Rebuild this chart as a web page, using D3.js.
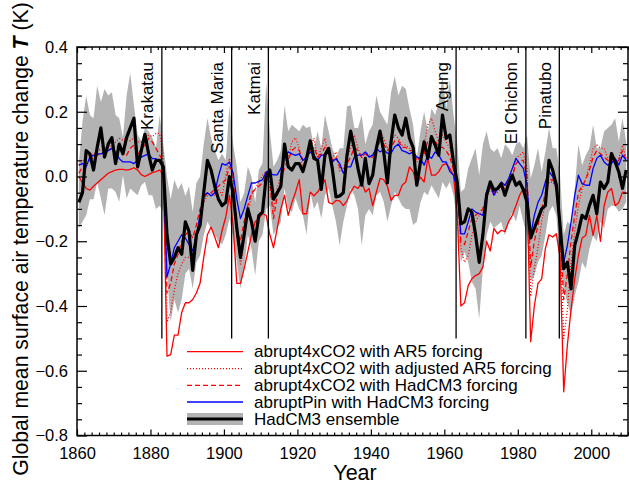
<!DOCTYPE html>
<html>
<head>
<meta charset="utf-8">
<script src="https://cdn.jsdelivr.net/npm/d3@7"></script>
<style>
  body { margin: 0; background: #fff; }
  text { font-family: "Liberation Sans", Arial, Helvetica, sans-serif; }
</style>
</head>
<body>
<div id="chart"></div>
<script>
// annual values 1860-2009, plotted at mid-year
const firstYear = 1860;

const ensMean = [
  -0.08, -0.05, 0.08, 0.07, 0.02, 0.09, 0.15, 0.06, 0.10, 0.12,
  0.04, 0.10, 0.07, 0.12, 0.15, 0.18, 0.03, 0.08, 0.13, 0.07,
  0.02, 0.05, 0.05, 0.03, -0.18, -0.27, -0.25, -0.22, -0.24, -0.14,
  -0.17, -0.29, -0.18, -0.15, -0.05, 0.05, 0.02, -0.03, -0.07, -0.09,
  -0.08, 0.00, -0.05, -0.16, -0.25, -0.18, -0.10, -0.14, -0.20, -0.12,
  -0.11, 0.00, 0.02, -0.07, -0.05, -0.03, 0.10, 0.03, 0.02, 0.04,
  0.04, 0.015, 0.056, 0.11, 0.056, 0.05, -0.04, 0.066, 0.087, 0.025,
  -0.063, -0.06, -0.05, 0.066, 0.14, 0.087, 0.025, -0.027, 0.056, -0.022,
  0.004, 0.087, 0.14, 0.076, -0.02, 0.107, 0.19, 0.15, 0.128, 0.18,
  0.118, 0.09, -0.027, 0.045, 0.107, 0.056, 0.123, 0.097, 0.066, 0.19,
  0.118, 0.128, 0.045, -0.017, -0.146, -0.14, -0.10, -0.11, -0.18, -0.265,
  -0.18, -0.058, -0.017, -0.042, -0.037, -0.022, -0.058, -0.022, 0.004, -0.027,
  -0.017, -0.04, -0.08, -0.19, -0.16, -0.13, -0.10, -0.09, 0.05, 0.02,
  -0.027, -0.15, -0.285, -0.265, -0.347, -0.213, -0.17, -0.12, -0.13, -0.09,
  -0.058, -0.115, -0.017, -0.037, -0.017, 0.071, 0.045, 0.014, -0.037, 0.02
];

const ensHigh = [
  0.04, 0.17, 0.25, 0.19, 0.18, 0.28, 0.23, 0.27, 0.25, 0.26,
  0.19, 0.18, 0.12, 0.25, 0.32, 0.22, 0.13, 0.11, 0.15, 0.14,
  0.12, 0.09, 0.19, 0.10, 0.00, -0.07, -0.01, -0.04, -0.02, -0.06,
  -0.03, -0.11, -0.02, 0.00, 0.10, 0.18, 0.12, 0.08, 0.05, 0.07,
  0.05, 0.22, 0.10, 0.03, -0.08, -0.05, 0.03, 0.00, -0.08, 0.02,
  0.04, 0.29, 0.14, 0.03, 0.05, 0.08, 0.22, 0.14, 0.16, 0.15,
  0.14, 0.16, 0.15, 0.155, 0.087, 0.14, 0.087, 0.19, 0.14, 0.087,
  0.056, 0.087, 0.087, 0.216, 0.22, 0.15, 0.15, 0.19, 0.10, 0.14,
  0.16, 0.25, 0.20, 0.18, 0.16, 0.26, 0.31, 0.25, 0.28, 0.27,
  0.21, 0.16, 0.056, 0.14, 0.20, 0.14, 0.21, 0.19, 0.23, 0.31,
  0.21, 0.30, 0.19, 0.107, -0.048, -0.037, 0.025, 0.056, 0.087, 0.004,
  0.10, 0.14, 0.087, 0.076, 0.087, 0.056, 0.10, 0.087, 0.066, 0.10,
  0.107, 0.087, 0.13, -0.006, 0.035, 0.087, 0.015, 0.076, 0.15, 0.087,
  0.087, 0.004, -0.18, -0.14, -0.15, -0.037, 0.10, 0.035, 0.066, 0.087,
  0.16, 0.087, 0.087, 0.14, 0.15, 0.16, 0.18, 0.107, 0.18, 0.107
];

const ensLow = [
  -0.16, -0.14, -0.12, -0.07, -0.07, -0.017, -0.068, -0.12, -0.037, -0.037,
  -0.048, -0.078, 0.004, -0.068, -0.037, -0.048, -0.058, -0.027, -0.017, -0.058,
  -0.058, -0.10, -0.09, -0.11, -0.30, -0.45, -0.38, -0.42, -0.38, -0.30,
  -0.285, -0.347, -0.265, -0.244, -0.182, -0.14, -0.16, -0.18, -0.20, -0.21,
  -0.18, -0.13, -0.19, -0.265, -0.347, -0.285, -0.18, -0.223, -0.306, -0.20,
  -0.18, -0.10, -0.09, -0.18, -0.16, -0.14, -0.037, -0.10, -0.11, -0.068,
  -0.10, -0.12, -0.18, -0.048, -0.10, -0.078, -0.13, -0.058, -0.037, -0.09,
  -0.14, -0.213, -0.14, -0.09, -0.037, -0.058, -0.10, -0.213, -0.12, -0.10,
  -0.12, -0.058, -0.048, -0.078, -0.14, -0.09, -0.048, -0.068, -0.09, -0.10,
  -0.10, -0.15, -0.14, -0.08, -0.048, -0.058, -0.027, -0.048, -0.068, -0.017,
  -0.037, -0.017, -0.058, -0.14, -0.265, -0.233, -0.265, -0.326, -0.347, -0.44,
  -0.285, -0.182, -0.14, -0.16, -0.15, -0.14, -0.182, -0.14, -0.11, -0.14,
  -0.09, -0.14, -0.182, -0.326, -0.306, -0.265, -0.244, -0.182, -0.11, -0.09,
  -0.12, -0.265, -0.347, -0.39, -0.43, -0.368, -0.326, -0.265, -0.285, -0.223,
  -0.182, -0.20, -0.14, -0.16, -0.10, -0.09, -0.09, -0.11, -0.10, -0.078
];

const pinHadCM3 = [
  0.035, 0.04, 0.03, 0.06, 0.065, 0.07, 0.07, 0.075, 0.08, 0.087,
  0.075, 0.055, 0.045, 0.045, 0.045, 0.04, 0.05, 0.06, 0.065, 0.07,
  0.055, 0.055, 0.045, 0.03, -0.31, -0.27, -0.22, -0.20, -0.18, -0.19,
  -0.21, -0.23, -0.18, -0.12, -0.06, -0.05, -0.06, -0.05, 0.00, 0.04,
  0.035, 0.045, 0.01, -0.07, -0.13, -0.10, -0.06, -0.02, -0.02, -0.015,
  -0.01, 0.015, 0.01, 0.005, 0.005, 0.025, 0.056, 0.076, 0.07, 0.065,
  0.07, 0.05, 0.06, 0.076, 0.066, 0.05, 0.066, 0.066, 0.076, 0.045,
  0.055, 0.04, 0.01, 0.03, 0.03, 0.06, 0.066, 0.066, 0.076, 0.06,
  0.066, 0.087, 0.076, 0.082, 0.072, 0.072, 0.092, 0.10, 0.08, 0.076,
  0.07, 0.076, 0.06, 0.055, 0.035, 0.066, 0.056, 0.076, 0.066, 0.045,
  0.045, 0.015, 0.004, -0.037, -0.177, -0.177, -0.14, -0.10, -0.11, -0.115,
  -0.12, -0.048, -0.027, -0.058, -0.037, -0.017, -0.027, -0.006, 0.025, 0.056,
  0.04, 0.025, -0.027, -0.18, -0.12, -0.08, -0.058, -0.017, 0.015, 0.00,
  -0.037, -0.14, -0.265, -0.213, -0.14, -0.058, 0.004, -0.022, -0.027, -0.027,
  0.025, 0.056, 0.066, 0.045, 0.035, 0.04, 0.056, 0.035, 0.066, 0.05
];

const co2AR5 = [
  0.00, -0.02, -0.037, -0.042, -0.03, -0.02, -0.01, 0.00, 0.01, 0.015,
  0.02, 0.022, 0.022, 0.02, 0.022, 0.027, 0.02, 0.006, 0.00, 0.006,
  0.012, 0.015, 0.02, 0.005, -0.555, -0.55, -0.49, -0.49, -0.42, -0.39,
  -0.39, -0.38, -0.36, -0.33, -0.25, -0.18, -0.156, -0.187, -0.22, -0.166,
  -0.125, -0.058, -0.15, -0.33, -0.33, -0.285, -0.233, -0.18, -0.14, -0.13,
  -0.115, -0.12, -0.18, -0.22, -0.16, -0.10, -0.058, -0.12, -0.08, -0.048,
  -0.01, -0.115, -0.115, -0.048, -0.06, -0.048, -0.03, -0.01, -0.08, -0.085,
  -0.074, -0.075, -0.09, -0.075, -0.048, -0.03, -0.037, -0.017, -0.048, -0.037,
  -0.09, -0.048, -0.006, -0.01, -0.03, -0.074, -0.058, -0.058, -0.027, -0.017,
  0.03, 0.015, -0.022, -0.002, -0.017, 0.056, 0.004, 0.004, 0.015, 0.035,
  0.04, 0.025, 0.004, -0.11, -0.40, -0.39, -0.337, -0.316, -0.306, -0.30,
  -0.28, -0.20, -0.23, -0.16, -0.177, -0.166, -0.17, -0.14, -0.12, -0.09,
  -0.058, -0.037, -0.045, -0.51, -0.40, -0.33, -0.316, -0.223, -0.18, -0.187,
  -0.177, -0.25, -0.665, -0.52, -0.41, -0.316, -0.244, -0.19, -0.182, -0.12,
  -0.182, -0.12, -0.20, -0.09, -0.048, -0.037, -0.09, -0.08, -0.048, -0.05
];

const co2AR5adj = [
  0.035, 0.045, 0.066, 0.066, 0.07, 0.076, 0.085, 0.087, 0.09, 0.095,
  0.107, 0.118, 0.112, 0.118, 0.11, 0.12, 0.107, 0.107, 0.118, 0.128,
  0.123, 0.133, 0.133, 0.066, -0.45, -0.42, -0.35, -0.30, -0.27, -0.25,
  -0.25, -0.24, -0.20, -0.12, -0.08, -0.06, -0.05, -0.06, -0.04, -0.058,
  0.004, 0.056, -0.017, -0.18, -0.275, -0.20, -0.12, -0.058, -0.037, -0.017,
  0.004, 0.015, -0.037, -0.10, -0.037, 0.004, 0.045, 0.056, 0.107, 0.12,
  0.087, 0.025, 0.056, 0.087, 0.118, 0.056, 0.087, 0.118, 0.066, 0.056,
  0.076, 0.015, 0.025, 0.056, 0.087, 0.128, 0.087, 0.056, 0.076, 0.066,
  0.066, 0.087, 0.14, 0.118, 0.087, 0.107, 0.128, 0.118, 0.097, 0.097,
  0.087, 0.087, 0.045, 0.066, 0.097, 0.16, 0.18, 0.14, 0.107, 0.128,
  0.107, 0.087, 0.025, -0.017, -0.22, -0.265, -0.244, -0.182, -0.14, -0.12,
  -0.10, -0.068, -0.037, -0.058, -0.048, -0.037, -0.037, -0.017, -0.006, 0.056,
  0.066, 0.076, 0.025, -0.37, -0.285, -0.22, -0.14, -0.078, -0.017, -0.017,
  -0.037, -0.18, -0.50, -0.41, -0.265, -0.17, -0.09, -0.037, -0.006, 0.035,
  0.087, 0.097, 0.087, 0.087, 0.056, 0.066, 0.035, 0.056, 0.097, 0.056
];

const co2HadCM3 = [
  0.01, 0.03, 0.04, 0.05, 0.06, 0.066, 0.07, 0.076, 0.08, 0.087,
  0.087, 0.097, 0.07, 0.066, 0.087, 0.097, 0.066, 0.087, 0.097, 0.118,
  0.107, 0.087, 0.066, 0.045, -0.36, -0.33, -0.27, -0.24, -0.20, -0.18,
  -0.17, -0.19, -0.15, -0.10, -0.07, -0.05, -0.05, -0.04, -0.03, -0.02,
  -0.01, 0.03, 0.01, -0.16, -0.20, -0.14, -0.09, -0.05, -0.04, -0.03,
  -0.02, 0.00, -0.02, -0.13, -0.06, -0.02, 0.03, 0.05, 0.08, 0.09,
  0.08, 0.05, 0.06, 0.08, 0.09, 0.06, 0.07, 0.09, 0.07, 0.05,
  0.06, 0.03, 0.02, 0.04, 0.06, 0.09, 0.08, 0.06, 0.07, 0.06,
  0.06, 0.08, 0.11, 0.10, 0.08, 0.09, 0.11, 0.11, 0.09, 0.09,
  0.08, 0.08, 0.05, 0.06, 0.07, 0.11, 0.12, 0.11, 0.09, 0.09,
  0.08, 0.06, 0.02, -0.02, -0.20, -0.21, -0.17, -0.13, -0.12, -0.11,
  -0.10, -0.06, -0.03, -0.05, -0.04, -0.03, -0.03, -0.01, 0.00, 0.04,
  0.05, 0.05, 0.00, -0.28, -0.20, -0.15, -0.10, -0.05, -0.01, -0.01,
  -0.03, -0.16, -0.38, -0.30, -0.20, -0.12, -0.05, -0.03, -0.01, 0.02,
  0.06, 0.08, 0.07, 0.06, 0.05, 0.05, 0.04, 0.05, 0.08, 0.05
];

const volcanoNames = ["Krakatau", "Santa Maria", "Katmai", "Agung", "El Chichon", "Pinatubo"];
const volcanoYears = [1883.1, 1902.1, 1912.1, 1963.2, 1982.2, 1991.3];

const xTicks = [1860, 1880, 1900, 1920, 1940, 1960, 1980, 2000];
const yTicks = [-0.8, -0.6, -0.4, -0.2, 0.0, 0.2, 0.4];

const legendLabels = [
  "abrupt4xCO2 with AR5 forcing",
  "abrupt4xCO2 with adjusted AR5 forcing",
  "abrupt4xCO2 with HadCM3 forcing",
  "abruptPin with HadCM3 forcing",
  "HadCM3 ensemble"
];

const years = ensMean.map((d, i) => firstYear + i);

const width = 629, height = 484;
const x = d3.scaleLinear().domain([1860, 2010]).range([77, 628]);
const y = d3.scaleLinear().domain([-0.8, 0.4]).range([435.5, 47]);

const svg = d3.select('#chart').append('svg')
  .attr('width', width)
  .attr('height', height);

svg.append('defs').append('clipPath').attr('id', 'clip')
  .append('rect')
  .attr('x', x(1860)).attr('y', y(0.4))
  .attr('width', x(2010) - x(1860)).attr('height', y(-0.8) - y(0.4));

const plot = svg.append('g').attr('clip-path', 'url(#clip)');

// ensemble range
const band = d3.area()
  .x(d => x(d + 0.5))
  .y0((d, i) => y(ensLow[i]))
  .y1((d, i) => y(ensHigh[i]));

plot.append('path')
  .datum(years)
  .attr('d', band)
  .attr('fill', '#b3b3b3');

const line = d3.line()
  .x((d, i) => x(years[i] + 0.5))
  .y(d => y(d));

const series = [
  { values: co2AR5, color: '#ff0000', width: 1.3, dash: null },
  { values: co2AR5adj, color: '#ff0000', width: 1.3, dash: '1,2' },
  { values: co2HadCM3, color: '#ff0000', width: 1.3, dash: '5,3' },
  { values: pinHadCM3, color: '#0000ff', width: 1.3, dash: null },
  { values: ensMean, color: '#000000', width: 3.2, dash: null }
];

series.forEach(s => {
  plot.append('path')
    .datum(s.values)
    .attr('d', line)
    .attr('fill', 'none')
    .attr('stroke', s.color)
    .attr('stroke-width', s.width)
    .attr('stroke-dasharray', s.dash)
    .attr('stroke-linejoin', 'round');
});

// eruptions
svg.selectAll('.volcano')
  .data(volcanoYears)
  .join('line')
  .attr('class', 'volcano')
  .attr('x1', d => x(d)).attr('x2', d => x(d))
  .attr('y1', y(0.4)).attr('y2', y(-0.5))
  .attr('stroke', '#000')
  .attr('stroke-width', 1.3);

svg.selectAll('.vlabel')
  .data(volcanoYears)
  .join('text')
  .attr('class', 'vlabel')
  .attr('transform', d => `translate(${x(d) - 8.5},62) rotate(-90)`)
  .attr('text-anchor', 'end')
  .attr('font-size', 17)
  .attr('fill', '#000')
  .text((d, i) => volcanoNames[i]);

// axes, ticks pointing inward
const xMinor = d3.range(1860, 2011, 2).filter(v => xTicks.indexOf(v) < 0);
const yMinor = d3.range(-16, 9).map(k => k * 0.05).filter(v => yTicks.every(t => Math.abs(t - v) > 1e-6));

function styleAxis(g) {
  g.select('.domain').remove();
  g.selectAll('.tick line').attr('stroke', '#000').attr('stroke-width', 1.2);
  g.selectAll('.tick text').attr('font-size', 16.5).attr('fill', '#000')
    .attr('font-family', '"Liberation Sans", Arial, Helvetica, sans-serif');
}

svg.append('g').attr('transform', `translate(0,${y(-0.8)})`)
  .call(d3.axisBottom(x).tickValues(xTicks).tickSize(-6).tickSizeOuter(0)
    .tickPadding(11.5).tickFormat(d3.format('d')))
  .call(styleAxis);
svg.append('g').attr('transform', `translate(0,${y(-0.8)})`)
  .call(d3.axisBottom(x).tickValues(xMinor).tickSize(-3).tickSizeOuter(0).tickFormat(''))
  .call(styleAxis);
svg.append('g').attr('transform', `translate(0,${y(0.4)})`)
  .call(d3.axisTop(x).tickValues(xTicks).tickSize(-6).tickSizeOuter(0).tickFormat(''))
  .call(styleAxis);
svg.append('g').attr('transform', `translate(0,${y(0.4)})`)
  .call(d3.axisTop(x).tickValues(xMinor).tickSize(-3).tickSizeOuter(0).tickFormat(''))
  .call(styleAxis);

svg.append('g').attr('transform', `translate(${x(1860)},0)`)
  .call(d3.axisLeft(y).tickValues(yTicks).tickSize(-10).tickSizeOuter(0)
    .tickPadding(9).tickFormat(d3.format('.1f')))
  .call(styleAxis);
svg.append('g').attr('transform', `translate(${x(1860)},0)`)
  .call(d3.axisLeft(y).tickValues(yMinor).tickSize(-5).tickSizeOuter(0).tickFormat(''))
  .call(styleAxis);
svg.append('g').attr('transform', `translate(${x(2010)},0)`)
  .call(d3.axisRight(y).tickValues(yTicks).tickSize(-10).tickSizeOuter(0).tickFormat(''))
  .call(styleAxis);
svg.append('g').attr('transform', `translate(${x(2010)},0)`)
  .call(d3.axisRight(y).tickValues(yMinor).tickSize(-5).tickSizeOuter(0).tickFormat(''))
  .call(styleAxis);

svg.append('rect')
  .attr('x', x(1860)).attr('y', y(0.4))
  .attr('width', x(2010) - x(1860)).attr('height', y(-0.8) - y(0.4))
  .attr('fill', 'none')
  .attr('stroke', '#000')
  .attr('stroke-width', 1.5);

// titles
svg.append('text')
  .attr('x', 355).attr('y', 480)
  .attr('text-anchor', 'middle')
  .attr('font-size', 21.5)
  .text('Year');

const yTitle = svg.append('text')
  .attr('transform', 'translate(28,239) rotate(-90)')
  .attr('text-anchor', 'middle')
  .attr('font-size', 21.2);
yTitle.append('tspan').text('Global mean surface air temperature change ');
yTitle.append('tspan').attr('font-weight', 'bold').attr('font-style', 'italic').text('T');
yTitle.append('tspan').text(' (K)');

// legend
const legendRows = [351.7, 368.7, 385.4, 402, 419];
const legend = svg.append('g');
series.slice(0, 4).forEach((s, i) => {
  legend.append('line')
    .attr('x1', 187).attr('x2', 243)
    .attr('y1', legendRows[i]).attr('y2', legendRows[i])
    .attr('stroke', s.color)
    .attr('stroke-width', s.width)
    .attr('stroke-dasharray', s.dash);
});
legend.append('rect')
  .attr('x', 187).attr('y', legendRows[4] - 6)
  .attr('width', 56).attr('height', 12)
  .attr('fill', '#b3b3b3');
legend.append('line')
  .attr('x1', 187).attr('x2', 243)
  .attr('y1', legendRows[4]).attr('y2', legendRows[4])
  .attr('stroke', '#000').attr('stroke-width', 3.2);

legend.selectAll('text')
  .data(legendLabels)
  .join('text')
  .attr('x', 254)
  .attr('y', (d, i) => legendRows[i] + 5.5)
  .attr('font-size', 17)
  .attr('fill', '#000')
  .text(d => d);
</script>
</body>
</html>
